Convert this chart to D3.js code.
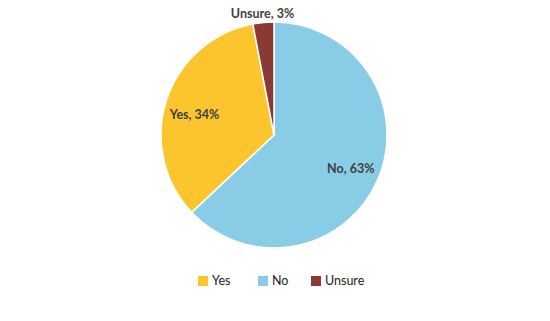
<!DOCTYPE html>
<html lang="en">
  <head>
    <meta charset="UTF-8" />
    <title>Pie</title>
    <script src="https://cdn.jsdelivr.net/npm/d3@7.6.1/dist/d3.min.js"></script>
    <style>
      body { margin: 0; background: #fff; }
      svg { display: block; font-family: Lato, 'Open Sans', sans-serif; }
    </style>
  </head>
  <body>
    <div id="box"></div>
    <script>
      // 数据
      const categories = ['No', 'Yes', 'Unsure'];
      const values = [63, 34, 3];
      const legendOrder = ['Yes', 'No', 'Unsure'];
      const colors = ['#88cce6', '#fcc52d', '#8a3a35'];

      const width = 550;
      const height = 321;
      const cx = 274, cy = 135, r = 113;

      const svg = d3.select('#box').append('svg').attr('width', width).attr('height', height);

      const color = d3.scaleOrdinal().domain(categories).range(colors);
      const data = categories.map((c, i) => ({name: c, value: values[i]}));

      const pie = d3.pie().sort(null).value(d => d.value);
      const arc = d3.arc().innerRadius(0).outerRadius(r);
      const arcs = pie(data);

      const g = svg.append('g').attr('transform', `translate(${cx},${cy})`);
      g.selectAll('path')
        .data(arcs)
        .enter()
        .append('path')
        .attr('d', arc)
        .attr('fill', d => color(d.data.name))
        .attr('stroke', '#fff')
        .attr('stroke-width', 1.5);

      // 标签: 小扇区放在外面
      const inner = d3.arc().innerRadius(r * 0.74).outerRadius(r * 0.74);
      const outer = d3.arc().innerRadius(r * 1.08).outerRadius(r * 1.08);
      g.selectAll('.lbl')
        .data(arcs)
        .enter()
        .append('text')
        .attr('class', 'lbl')
        .attr('transform', d => {
          const [x, y] = (d.data.value < 5 ? outer : inner).centroid(d);
          return `translate(${x},${d.data.name === 'Yes' ? y + 5 : y})`;
        })
        .attr('text-anchor', 'middle')
        .attr('dy', '0.35em')
        .attr('font-size', 12.5)
        .attr('font-weight', 'bold')
        .attr('fill', '#404040')
        .text(d => `${d.data.name}, ${d.data.value}%`);

      // 图例
      const legendX = [198, 258, 311];
      const legend = svg.selectAll('.leg')
        .data(legendOrder)
        .enter()
        .append('g')
        .attr('class', 'leg')
        .attr('transform', (d, i) => `translate(${legendX[i]},276)`);
      legend.append('rect').attr('width', 10).attr('height', 10).attr('fill', d => color(d));
      legend.append('text')
        .attr('x', 14)
        .attr('y', 5)
        .attr('dy', '0.35em')
        .attr('font-size', 12.5)
        .attr('fill', '#222')
        .text(d => d);
    </script>
  </body>
</html>
